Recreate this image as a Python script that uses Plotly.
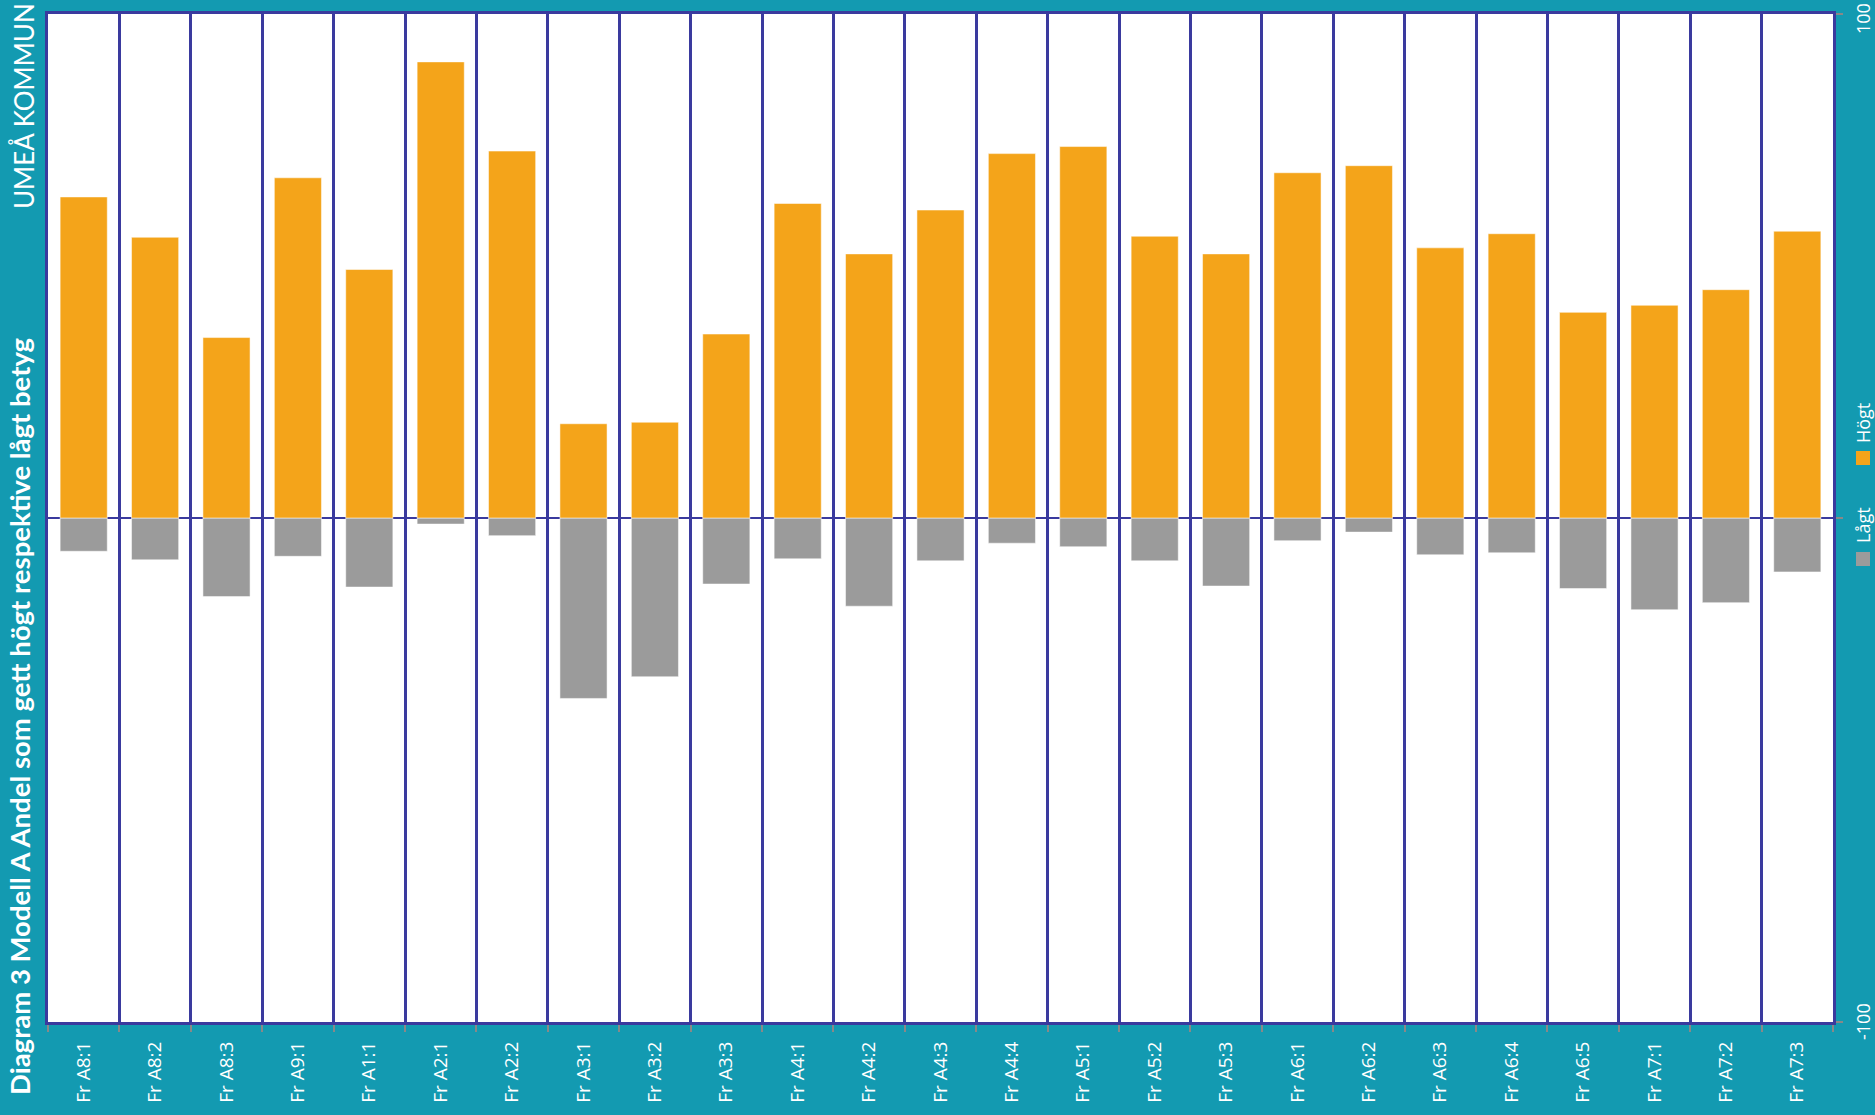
import plotly.graph_objects as go

categories = ["Fr A8:1", "Fr A8:2", "Fr A8:3", "Fr A9:1", "Fr A1:1", "Fr A2:1", "Fr A2:2",
              "Fr A3:1", "Fr A3:2", "Fr A3:3", "Fr A4:1", "Fr A4:2", "Fr A4:3", "Fr A4:4",
              "Fr A5:1", "Fr A5:2", "Fr A5:3", "Fr A6:1", "Fr A6:2", "Fr A6:3", "Fr A6:4",
              "Fr A6:5", "Fr A7:1", "Fr A7:2", "Fr A7:3"]
hogt = [63.7, 55.7, 35.8, 67.5, 49.3, 90.5, 72.8, 18.7, 19.0, 36.5, 62.4, 52.4, 61.1, 72.3,
        73.7, 55.9, 52.4, 68.5, 69.9, 53.6, 56.4, 40.8, 42.2, 45.3, 56.9]
lagt = [-6.6, -8.3, -15.6, -7.6, -13.7, -1.2, -3.5, -35.8, -31.5, -13.1, -8.1, -17.5, -8.5, -5.0,
        -5.7, -8.5, -13.5, -4.5, -2.8, -7.3, -6.9, -14.0, -18.2, -16.8, -10.7]
yticks = [-100, 0, 100]
yticklabels = ["-100", "", "100"]

BG = "#139AB1"
ORANGE = "#F4A41A"
GREY = "#9B9B9B"
NAVY = "#3A3A9E"
W = 1875
H = 1115
L, R, T, B = 48, 42, 14, 93
pw = W - L - R
ph = H - T - B

fig = go.Figure()
fig.add_trace(go.Bar(x=categories, y=lagt, name="Lågt",
                     marker=dict(color=GREY, line=dict(color="rgba(255,255,255,0.5)", width=1)), width=0.66))
fig.add_trace(go.Bar(x=categories, y=hogt, name="Högt",
                     marker=dict(color=ORANGE, line=dict(color="rgba(255,255,255,0.5)", width=1)), width=0.66))


def px_x(px):
    return (px - L) / pw


def px_y(py):
    return (H - B - py) / ph


def rot_text(text, cx, cy, size, family="Open Sans"):
    return dict(text=text, textangle=-90, x=px_x(cx), y=px_y(cy), xref="paper", yref="paper",
                xanchor="center", yanchor="middle", showarrow=False,
                font=dict(family=family, size=size, color="white"))


annotations = [
    rot_text("<b>Diagram 3 Modell A Andel som gett högt respektive lågt betyg</b>", 19, 716, 27.5, "Lato"),
    rot_text("UMEÅ KOMMUN", 24, 106, 26, "Lato"),
    rot_text("Lågt", 1863, 525, 18),
    rot_text("Högt", 1863, 423, 18),
]
# y tick labels for the ends of the axis, drawn as rotated text
for v, lab in zip(yticks, yticklabels):
    if lab:
        annotations.append(dict(text=lab, textangle=-90, x=1, xshift=30, y=v,
                                yshift=-5 if v > 0 else 0, xref="paper", yref="y",
                                xanchor="center", yanchor="middle", showarrow=False,
                                font=dict(family="Open Sans", size=18, color="white")))

shapes = []
for cy, col in [(559, GREY), (458, ORANGE)]:
    shapes.append(dict(type="rect", xref="paper", yref="paper",
                       x0=px_x(1856), x1=px_x(1870), y0=px_y(cy + 7), y1=px_y(cy - 7),
                       fillcolor=col, line=dict(width=0)))

fig.update_layout(
    width=W, height=H,
    margin=dict(l=L, r=R, t=T, b=B, pad=0),
    paper_bgcolor=BG, plot_bgcolor="white",
    barmode="relative", bargap=0.34,
    showlegend=False,
    annotations=annotations,
    shapes=shapes,
    font=dict(family="Open Sans", color="white"),
    xaxis=dict(type="category", tickson="boundaries", showgrid=True, gridcolor=NAVY, gridwidth=2.5,
               tickangle=-90, ticks="outside", ticklen=7, tickcolor="#888888", tickwidth=1.5,
               tickfont=dict(family="Open Sans", size=19, color="white"), ticklabelstandoff=9,
               showline=True, linecolor=NAVY, linewidth=3, mirror=True, range=[-0.5, 24.5]),
    yaxis=dict(range=[-100, 100], side="right", tickvals=yticks, ticktext=["", "", ""],
               ticks="outside", ticklen=7, tickcolor="#888888", tickwidth=1.5, showgrid=False,
               zeroline=True, zerolinecolor=NAVY, zerolinewidth=1.5,
               showline=True, linecolor=NAVY, linewidth=3, mirror=True),
)

fig.write_html("out.html", config={"displayModeBar": False},
               post_script="document.body.style.margin='0';document.body.style.background='%s';" % BG)
